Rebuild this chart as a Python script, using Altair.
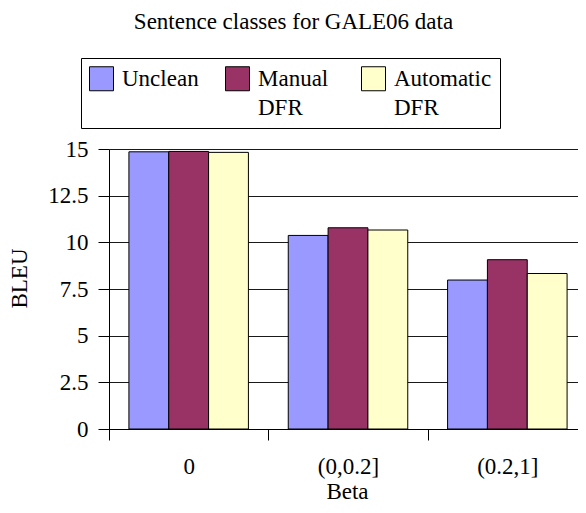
import altair as alt
import pandas as pd

categories = ["0", "(0,0.2]", "(0.2,1]"]
series = ["Unclean", "Manual DFR", "Automatic DFR"]
unclean = [14.85, 10.37, 7.98]
manual = [14.87, 10.78, 9.07]
automatic = [14.82, 10.66, 8.33]
colors = ["#9999FF", "#993366", "#FFFFCC"]
y_ticks = [0, 2.5, 5, 7.5, 10, 12.5, 15]

rows = []
for name, vals in zip(series, [unclean, manual, automatic]):
    for c, v in zip(categories, vals):
        rows.append({"Beta": c, "Series": name, "BLEU": v})
df = pd.DataFrame(rows)

FONT = "Liberation Serif"
FS = 23

bars = alt.Chart(df).mark_bar(stroke="black", strokeWidth=1).encode(
    x=alt.X(
        "Beta:N",
        sort=categories,
        scale=alt.Scale(paddingInner=0, paddingOuter=0, range=[0, 478]),
        axis=alt.Axis(
            title="Beta",
            labelAngle=0,
            tickBand="extent",
            tickSize=11,
            tickColor="black",
            domainColor="black",
            labelBaseline="middle",
            labelPadding=26,
            titleX=238,
            titleY=62,
            titleBaseline="middle",
        ),
    ),
    xOffset=alt.XOffset("Series:N", sort=series, scale=alt.Scale(paddingInner=0, paddingOuter=0.5)),
    y=alt.Y(
        "BLEU:Q",
        scale=alt.Scale(domain=[0, 15], nice=False),
        axis=alt.Axis(
            title="BLEU",
            values=y_ticks,
            format=".1~f",
            grid=True,
            gridColor="black",
            gridOpacity=0.9,
            tickSize=11,
            tickColor="black",
            domainColor="black",
            labelPadding=10,
            titleX=-90,
            titleY=129,
            titleAngle=270,
            titleAlign="center",
            titleBaseline="middle",
        ),
    ),
    color=alt.Color(
        "Series:N",
        sort=series,
        scale=alt.Scale(domain=series, range=colors),
        legend=alt.Legend(
            title=None,
            orient="none",
            legendX=-28,
            legendY=-91,
            direction="horizontal",
            columns=3,
            gridAlign="all",
            columnPadding=3,
            padding=8,
            strokeColor="black",
            symbolType="square",
            symbolSize=576,
            symbolStrokeColor="black",
            symbolStrokeWidth=1,
            symbolOpacity=1,
            labelOffset=8,
            labelBaseline="middle",
            labelFontSize=FS,
            labelFont=FONT,
            labelColor="black",
            labelLimit=300,
            labelExpr="datum.label == 'Unclean' ? ['Unclean', ''] : split(datum.label, ' ')",
        ),
    ),
)

chart = bars.properties(
    width=469,
    height=280,
    autosize=alt.AutoSizeParams(type="none"),
    padding={"left": 101, "top": 141, "right": 0, "bottom": 76},
    title=alt.TitleParams(
        "Sentence classes for GALE06 data",
        fontSize=FS,
        font=FONT,
        fontWeight="normal",
        color="black",
        anchor="middle",
        dx=-50,
        dy=-20,
    ),
).configure(
    font=FONT,
    style={"guide-label": {"lineHeight": 29}},
).configure_axis(
    labelFont=FONT,
    titleFont=FONT,
    labelFontSize=FS,
    titleFontSize=FS,
    titleFontWeight="normal",
    labelColor="black",
    titleColor="black",
).configure_view(strokeWidth=0)

chart.save("out.html", embed_options={"renderer": "svg", "actions": False})
